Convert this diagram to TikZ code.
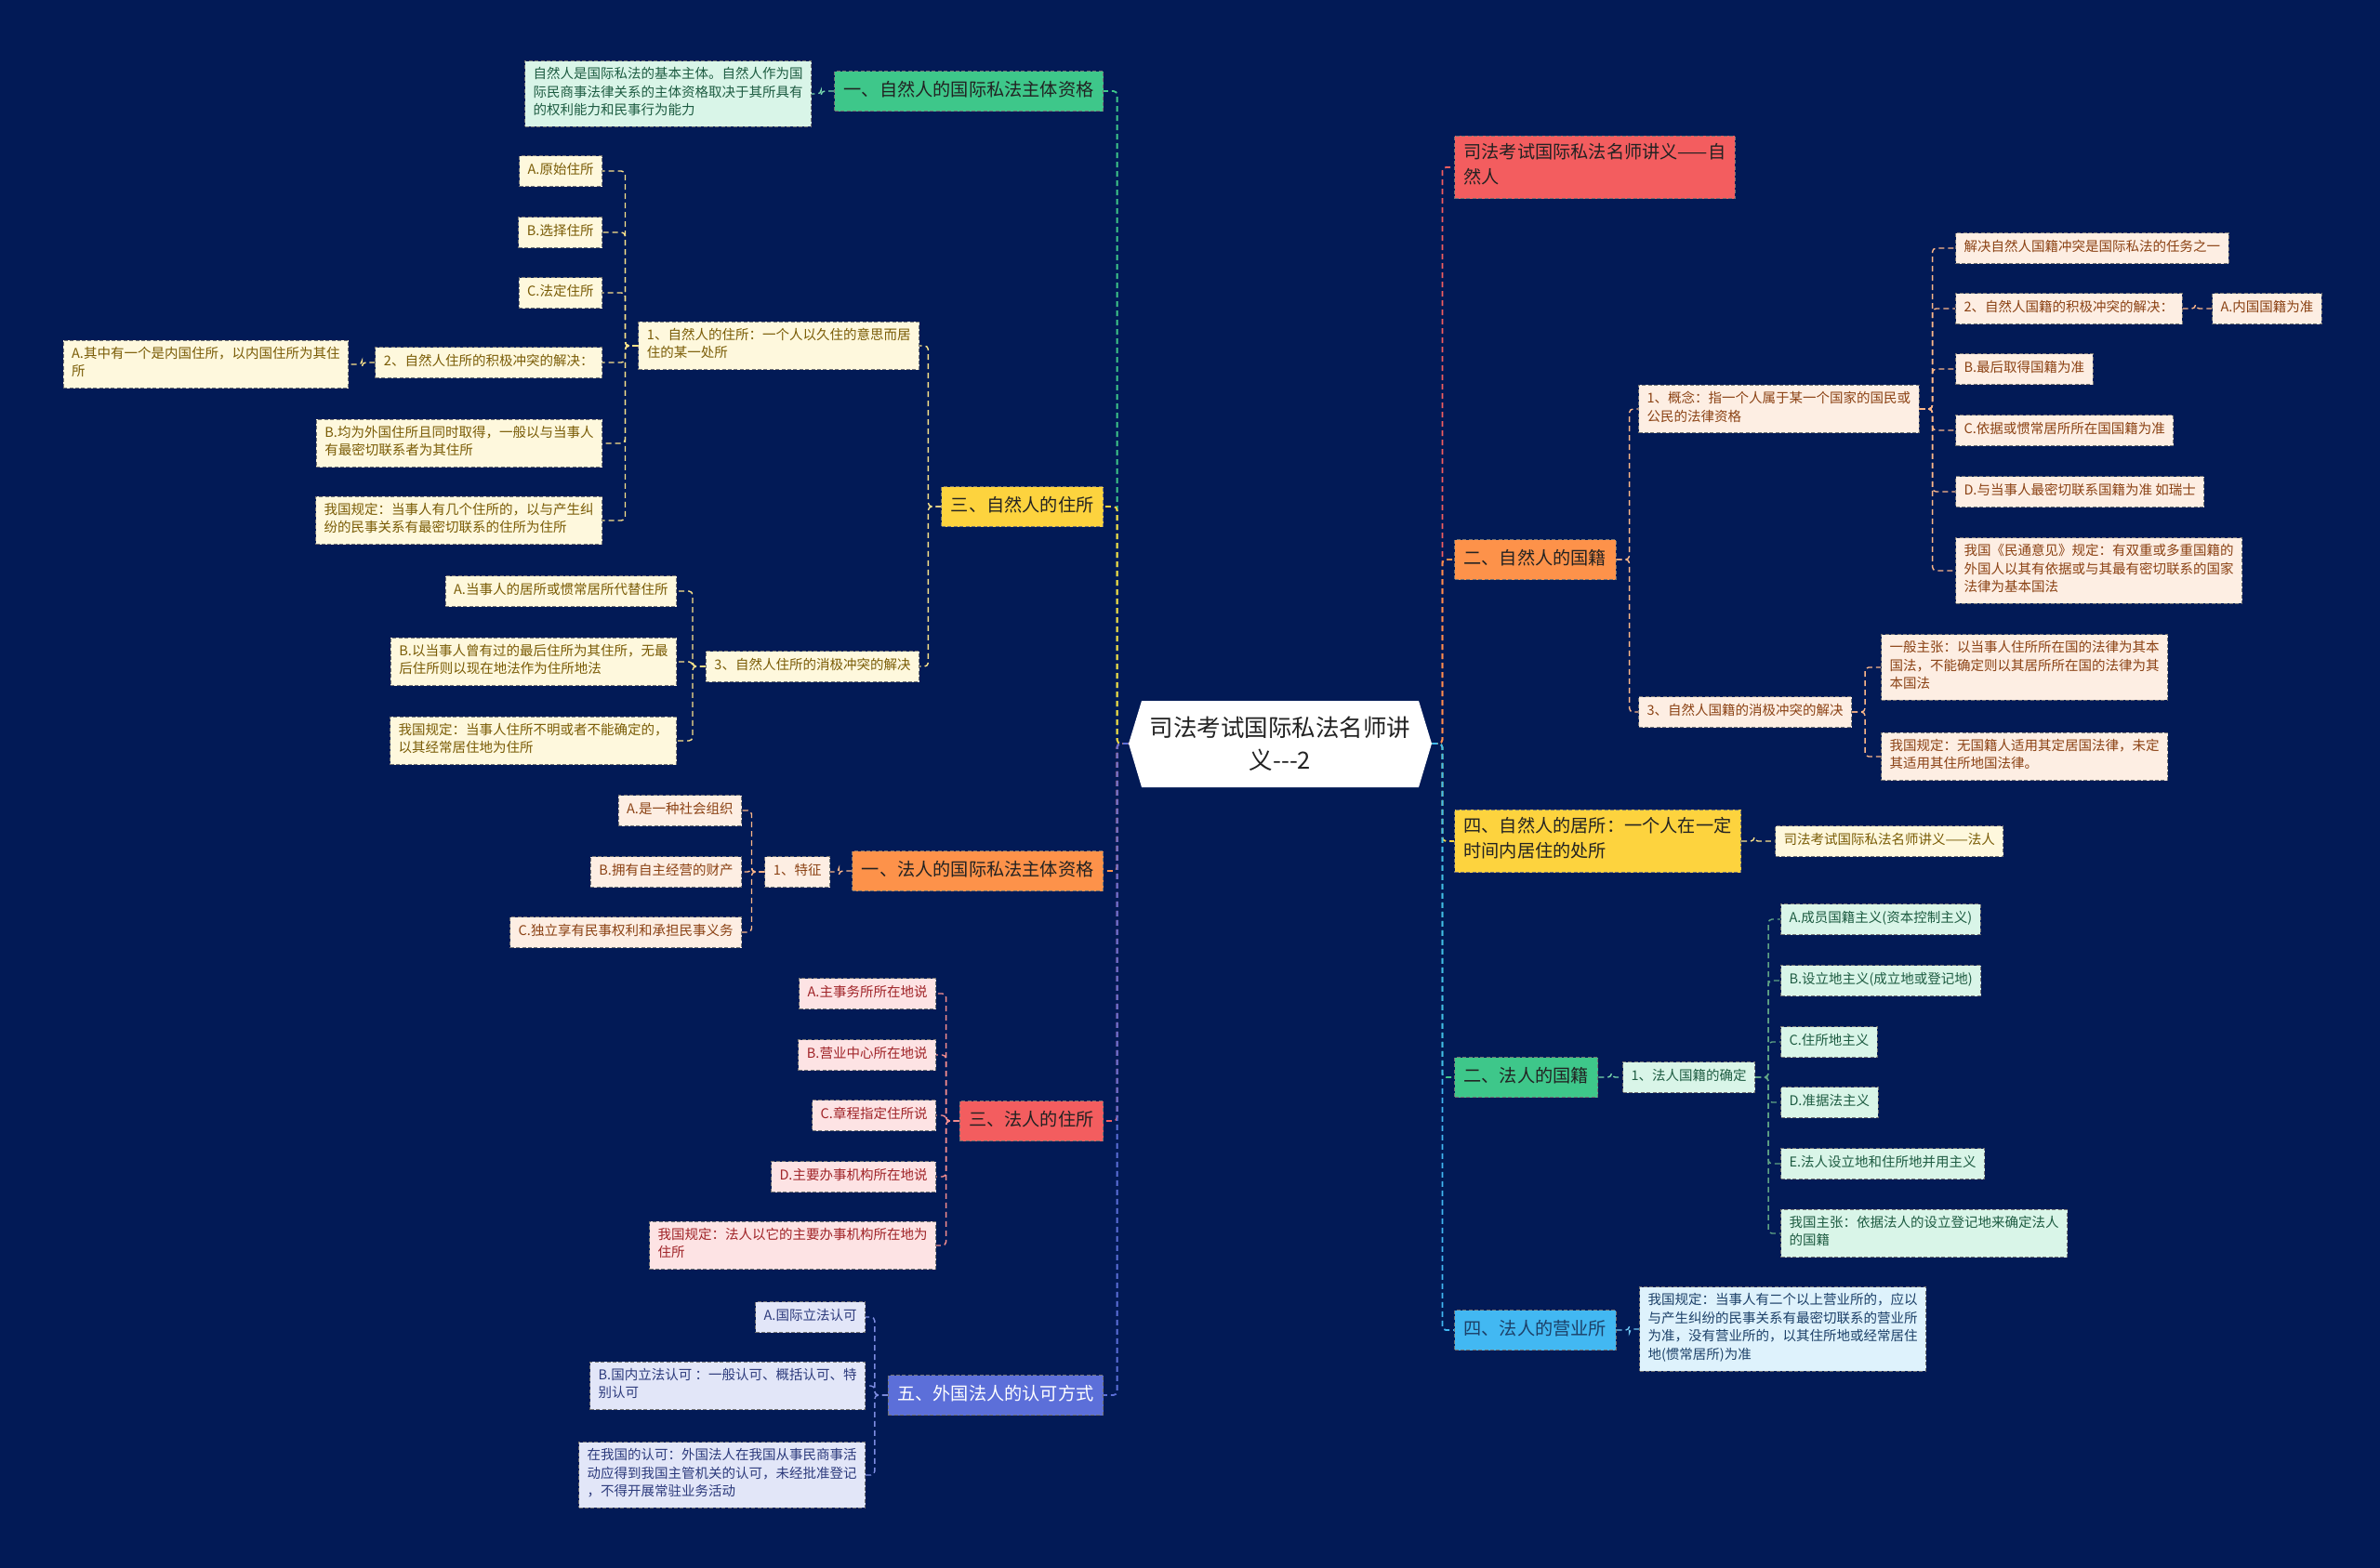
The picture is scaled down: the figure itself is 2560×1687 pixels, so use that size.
\documentclass[tikz,border=0pt]{standalone}
\usepackage{fontspec}
\setmainfont{Noto Sans CJK SC}
\usetikzlibrary{calc}
\definecolor{bg}{RGB}{2,26,86}
\definecolor{cDark}{RGB}{34,34,34}
\definecolor{cGreen}{RGB}{62,199,138}
\definecolor{cGreenL}{RGB}{217,245,232}
\definecolor{cGreenT}{RGB}{30,92,66}
\definecolor{cYellow}{RGB}{253,211,62}
\definecolor{cYellowL}{RGB}{254,248,221}
\definecolor{cYellowT}{RGB}{122,92,6}
\definecolor{cOrange}{RGB}{253,146,74}
\definecolor{cOrangeL}{RGB}{253,238,227}
\definecolor{cOrangeT}{RGB}{139,66,20}
\definecolor{cRed}{RGB}{243,93,95}
\definecolor{cRedL}{RGB}{253,227,228}
\definecolor{cRedT}{RGB}{160,36,40}
\definecolor{cPurple}{RGB}{92,111,217}
\definecolor{cPurpleL}{RGB}{226,230,248}
\definecolor{cPurpleT}{RGB}{44,58,124}
\definecolor{cBlue}{RGB}{66,184,242}
\definecolor{cBlueL}{RGB}{222,242,252}
\definecolor{cBlueT}{RGB}{28,64,104}
\newcommand\lconn[3]{\draw[conn,#3] (#1.west) -- ++(-14,0) |- (#2.east);}
\newcommand\rconn[3]{\draw[conn,#3] (#1.east) -- ++(14,0) |- (#2.west);}
\begin{document}
\begin{tikzpicture}[x=0.5pt,y=-0.5pt,
  box/.style={rectangle, draw=black!55, dash pattern=on 2pt off 1.2pt, line width=0.5pt,
    align=left, execute at begin node=\strut, execute at end node=\strut},
  lone/.style={box, font=\fontsize{9.6}{13.5}\selectfont, inner xsep=5pt, inner ysep=4pt},
  leaf/.style={box, font=\fontsize{7.25}{9.75}\selectfont, inner xsep=4.5pt, inner ysep=3.375pt},
  gA/.style={fill=cGreen, text=cDark}, gB/.style={fill=cGreenL, text=cGreenT},
  yA/.style={fill=cYellow, text=cDark}, yB/.style={fill=cYellowL, text=cYellowT},
  oA/.style={fill=cOrange, text=cDark}, oB/.style={fill=cOrangeL, text=cOrangeT},
  rA/.style={fill=cRed, text=cDark}, rB/.style={fill=cRedL, text=cRedT},
  pA/.style={fill=cPurple, text=white}, pB/.style={fill=cPurpleL, text=cPurpleT},
  bA/.style={fill=cBlue, text=cBlueT}, bB/.style={fill=cBlueL, text=cBlueT},
  conn/.style={dash pattern=on 3pt off 2pt, line width=0.9pt, rounded corners=2pt},
  sub/.style={conn, line width=0.7pt}
]
\useasboundingbox[fill=bg] (0,0) rectangle (2560,1687);

% ---------- root ----------
\fill[white] (1228,754) -- (1526,754) -- (1540,800) -- (1526,847) -- (1228,847) -- (1214,800) -- cycle;
\node[minimum width=163pt, minimum height=46.5pt, align=center, text=cDark,
  font=\fontsize{12.75}{17.5}\selectfont] (root) at (1377,800) {司法考试国际私法名师讲\\义-{}-{}-2};

% ---------- left level 1 ----------
\node[lone,gA,anchor=east] (L1a) at (1187,98) {一、自然人的国际私法主体资格};
\node[lone,yA,anchor=east] (L1b) at (1187,545) {三、自然人的住所};
\node[lone,oA,anchor=east] (L1c) at (1187,937) {一、法人的国际私法主体资格};
\node[lone,rA,anchor=east] (L1d) at (1187,1206) {三、法人的住所};
\node[lone,pA,anchor=east] (L1e) at (1187,1501) {五、外国法人的认可方式};

% ---------- left leaves ----------
\node[leaf,gB,anchor=east] (a1) at (873,101) {自然人是国际私法的基本主体。自然人作为国\\际民商事法律关系的主体资格取决于其所具有\\的权利能力和民事行为能力};

\node[leaf,yB,anchor=east] (b1) at (989,372) {1、自然人的住所：一个人以久住的意思而居\\住的某一处所};
\node[leaf,yB,anchor=east] (b2) at (989,717) {3、自然人住所的消极冲突的解决};
\node[leaf,yB,anchor=east] (b11) at (648,184) {A.原始住所};
\node[leaf,yB,anchor=east] (b12) at (648,250) {B.选择住所};
\node[leaf,yB,anchor=east] (b13) at (648,315) {C.法定住所};
\node[leaf,yB,anchor=east] (b14) at (648,390) {2、自然人住所的积极冲突的解决：};
\node[leaf,yB,anchor=east] (b141) at (375,392) {A.其中有一个是内国住所，以内国住所为其住\\所};
\node[leaf,yB,anchor=east] (b15) at (648,477) {B.均为外国住所且同时取得，一般以与当事人\\有最密切联系者为其住所};
\node[leaf,yB,anchor=east] (b16) at (648,560) {我国规定：当事人有几个住所的，以与产生纠\\纷的民事关系有最密切联系的住所为住所};
\node[leaf,yB,anchor=east] (b21) at (728,636) {A.当事人的居所或惯常居所代替住所};
\node[leaf,yB,anchor=east] (b22) at (728,712) {B.以当事人曾有过的最后住所为其住所，无最\\后住所则以现在地法作为住所地法};
\node[leaf,yB,anchor=east] (b23) at (728,797) {我国规定：当事人住所不明或者不能确定的，\\以其经常居住地为住所};

\node[leaf,oB,anchor=east] (c1) at (893,938) {1、特征};
\node[leaf,oB,anchor=east] (c11) at (798,872) {A.是一种社会组织};
\node[leaf,oB,anchor=east] (c12) at (798,938) {B.拥有自主经营的财产};
\node[leaf,oB,anchor=east] (c13) at (798,1003) {C.独立享有民事权利和承担民事义务};

\node[leaf,rB,anchor=east] (d1) at (1007,1069) {A.主事务所所在地说};
\node[leaf,rB,anchor=east] (d2) at (1007,1135) {B.营业中心所在地说};
\node[leaf,rB,anchor=east] (d3) at (1007,1200) {C.章程指定住所说};
\node[leaf,rB,anchor=east] (d4) at (1007,1266) {D.主要办事机构所在地说};
\node[leaf,rB,anchor=east] (d5) at (1007,1340) {我国规定：法人以它的主要办事机构所在地为\\住所};

\node[leaf,pB,anchor=east] (e1) at (931,1417) {A.国际立法认可};
\node[leaf,pB,anchor=east] (e2) at (931,1491) {B.国内立法认可 ：一般认可、概括认可、特\\别认可};
\node[leaf,pB,anchor=east] (e3) at (931,1587) {在我国的认可：外国法人在我国从事民商事活\\动应得到我国主管机关的认可，未经批准登记\\，不得开展常驻业务活动};

% ---------- right level 1 ----------
\node[lone,rA,anchor=west] (R1a) at (1564,180) {司法考试国际私法名师讲义——自\\然人};
\node[lone,oA,anchor=west] (R1b) at (1564,602) {二、自然人的国籍};
\node[lone,yA,anchor=west] (R1c) at (1564,905) {四、自然人的居所：一个人在一定\\时间内居住的处所};
\node[lone,gA,anchor=west] (R1d) at (1564,1159) {二、法人的国籍};
\node[lone,bA,anchor=west] (R1e) at (1564,1431) {四、法人的营业所};

% ---------- right leaves ----------
\node[leaf,oB,anchor=west] (f1) at (1762,440) {1、概念：指一个人属于某一个国家的国民或\\公民的法律资格};
\node[leaf,oB,anchor=west] (f2) at (1762,766) {3、自然人国籍的消极冲突的解决};
\node[leaf,oB,anchor=west] (f11) at (2103,267) {解决自然人国籍冲突是国际私法的任务之一};
\node[leaf,oB,anchor=west] (f12) at (2103,332) {2、自然人国籍的积极冲突的解决：};
\node[leaf,oB,anchor=west] (f121) at (2379,332) {A.内国国籍为准};
\node[leaf,oB,anchor=west] (f13) at (2103,397) {B.最后取得国籍为准};
\node[leaf,oB,anchor=west] (f14) at (2103,463) {C.依据或惯常居所所在国国籍为准};
\node[leaf,oB,anchor=west] (f15) at (2103,529) {D.与当事人最密切联系国籍为准 如瑞士};
\node[leaf,oB,anchor=west] (f16) at (2103,614) {我国《民通意见》规定：有双重或多重国籍的\\外国人以其有依据或与其最有密切联系的国家\\法律为基本国法};
\node[leaf,oB,anchor=west] (f21) at (2023,718) {一般主张：以当事人住所所在国的法律为其本\\国法，不能确定则以其居所所在国的法律为其\\本国法};
\node[leaf,oB,anchor=west] (f22) at (2023,814) {我国规定：无国籍人适用其定居国法律，未定\\其适用其住所地国法律。};

\node[leaf,yB,anchor=west] (g1) at (1909,905) {司法考试国际私法名师讲义——法人};

\node[leaf,gB,anchor=west] (h1) at (1745,1159) {1、法人国籍的确定};
\node[leaf,gB,anchor=west] (h11) at (1915,989) {A.成员国籍主义(资本控制主义)};
\node[leaf,gB,anchor=west] (h12) at (1915,1055) {B.设立地主义(成立地或登记地)};
\node[leaf,gB,anchor=west] (h13) at (1915,1121) {C.住所地主义};
\node[leaf,gB,anchor=west] (h14) at (1915,1186) {D.准据法主义};
\node[leaf,gB,anchor=west] (h15) at (1915,1252) {E.法人设立地和住所地并用主义};
\node[leaf,gB,anchor=west] (h16) at (1915,1327) {我国主张：依据法人的设立登记地来确定法人\\的国籍};

\node[leaf,bB,anchor=west] (i1) at (1763,1430) {我国规定：当事人有二个以上营业所的，应以\\与产生纠纷的民事关系有最密切联系的营业所\\为准，没有营业所的，以其住所地或经常居住\\地(惯常居所)为准};

% ---------- trunk connectors ----------
\foreach \n/\c in {L1a/cGreen, L1b/cYellow, L1c/cOrange, L1d/cRed, L1e/cPurple}
  \draw[conn,\c] (root.west) -- ++(-12,0) |- (\n.east);
\foreach \n/\c in {R1a/cRed, R1b/cOrange, R1c/cYellow, R1d/cGreen, R1e/cBlue}
  \draw[conn,\c] (root.east) -- ++(11,0) |- (\n.west);

% ---------- left sub connectors ----------
\lconn{L1a}{a1}{sub,cGreen!70!white}
\foreach \n in {b1,b2} {\lconn{L1b}{\n}{sub,cYellow!60!white}}
\foreach \n in {b11,b12,b13,b14,b15,b16} {\lconn{b1}{\n}{sub,cYellow!60!white}}
\lconn{b14}{b141}{sub,cYellow!60!white}
\foreach \n in {b21,b22,b23} {\lconn{b2}{\n}{sub,cYellow!60!white}}
\lconn{L1c}{c1}{sub,cOrange!65!white}
\foreach \n in {c11,c12,c13} {\lconn{c1}{\n}{sub,cOrange!65!white}}
\foreach \n in {d1,d2,d3,d4,d5} {\lconn{L1d}{\n}{sub,cRed!70!white}}
\foreach \n in {e1,e2,e3} {\lconn{L1e}{\n}{sub,cPurple!80!white}}

% ---------- right sub connectors ----------
\foreach \n in {f1,f2} {\rconn{R1b}{\n}{sub,cOrange!65!white}}
\foreach \n in {f11,f12,f13,f14,f15,f16} {\rconn{f1}{\n}{sub,cOrange!65!white}}
\rconn{f12}{f121}{sub,cOrange!65!white}
\foreach \n in {f21,f22} {\rconn{f2}{\n}{sub,cOrange!65!white}}
\rconn{R1c}{g1}{sub,cYellow!60!white}
\rconn{R1d}{h1}{sub,cGreen!70!white}
\foreach \n in {h11,h12,h13,h14,h15,h16} {\rconn{h1}{\n}{sub,cGreen!50!gray}}
\rconn{R1e}{i1}{sub,cBlue!75!white}
\end{tikzpicture}
\end{document}
